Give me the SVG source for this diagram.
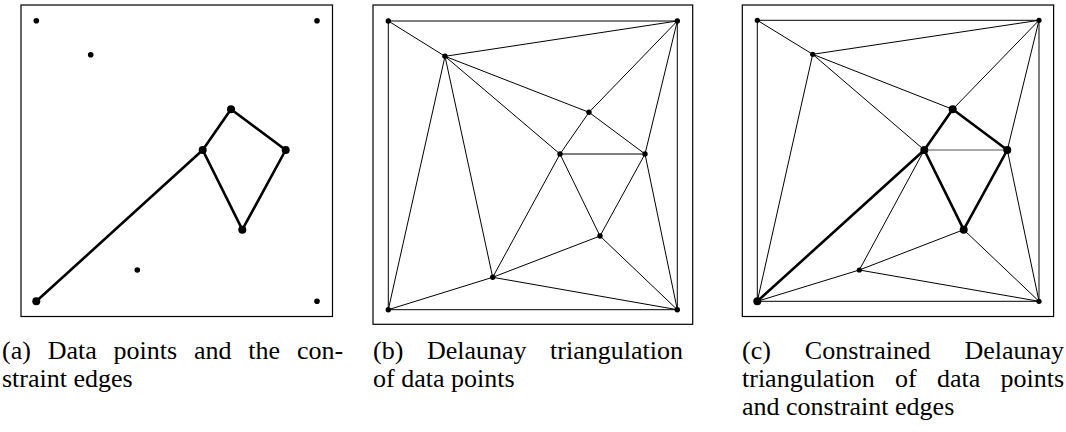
<svg xmlns="http://www.w3.org/2000/svg" width="1066" height="432" viewBox="0 0 1066 432">
<style>
.frame{fill:none;stroke:#000;stroke-width:1.2}
.thin{stroke:#000;stroke-width:1;fill:none}
.thick{stroke:#000;stroke-width:2.6;fill:none;stroke-linecap:round}
.gray{stroke:#555;stroke-width:1.2}
.s{fill:#000}
.cap{font-family:"Liberation Serif",serif;font-size:26px;fill:#000}
</style>
<rect width="1066" height="432" fill="#fff"/>
<!-- Panel a -->
<g id="panel-a">
<rect class="frame" x="21" y="5" width="311.5" height="311.5"/>
<g id="edges-a" class="thick">
<line x1="36.3" y1="301.3" x2="202.7" y2="150"/>
<line x1="202.7" y1="150" x2="231" y2="109.3"/>
<line x1="231" y1="109.3" x2="285.7" y2="150"/>
<line x1="285.7" y1="150" x2="242.3" y2="229.7"/>
<line x1="242.3" y1="229.7" x2="202.7" y2="150"/>
</g>
<g id="nodes-a" class="s">
<circle id="a-tl" cx="36.3" cy="20.7" r="2.8"/>
<circle id="a-tr" cx="317" cy="20.7" r="2.8"/>
<circle id="a-p1" cx="90.7" cy="54.7" r="2.8"/>
<circle id="a-d" cx="231" cy="109.3" r="4"/>
<circle id="a-c" cx="202.7" cy="150" r="4"/>
<circle id="a-e" cx="285.7" cy="150" r="4"/>
<circle id="a-f" cx="242.3" cy="229.7" r="4"/>
<circle id="a-b" cx="137.3" cy="270" r="2.8"/>
<circle id="a-bl" cx="36.3" cy="301.3" r="4"/>
<circle id="a-br" cx="317" cy="301.3" r="2.8"/>
</g>
</g>
<!-- Panel b -->
<g id="panel-b">
<rect class="frame" x="373" y="5" width="319.7" height="319.3"/>
<g id="edges-b" class="thin">
<line x1="388.3" y1="21" x2="677.3" y2="21"/>
<line x1="388.3" y1="21" x2="388.3" y2="309.7"/>
<line x1="677.3" y1="21" x2="677.3" y2="309.7"/>
<line x1="388.3" y1="309.7" x2="677.3" y2="309.7"/>
<line x1="388.3" y1="21" x2="445" y2="56.3"/>
<line x1="445" y1="56.3" x2="677.3" y2="21"/>
<line x1="445" y1="56.3" x2="388.3" y2="309.7"/>
<line x1="445" y1="56.3" x2="492.7" y2="277.3"/>
<line x1="445" y1="56.3" x2="560" y2="154"/>
<line x1="445" y1="56.3" x2="589" y2="112.3"/>
<line x1="677.3" y1="21" x2="589" y2="112.3"/>
<line x1="677.3" y1="21" x2="645" y2="154"/>
<line x1="589" y1="112.3" x2="560" y2="154"/>
<line x1="589" y1="112.3" x2="645" y2="154"/>
<line x1="560" y1="154" x2="645" y2="154"/>
<line x1="560" y1="154" x2="492.7" y2="277.3"/>
<line x1="560" y1="154" x2="600" y2="236"/>
<line x1="645" y1="154" x2="600" y2="236"/>
<line x1="645" y1="154" x2="677.3" y2="309.7"/>
<line x1="600" y1="236" x2="492.7" y2="277.3"/>
<line x1="600" y1="236" x2="677.3" y2="309.7"/>
<line x1="492.7" y1="277.3" x2="388.3" y2="309.7"/>
<line x1="492.7" y1="277.3" x2="677.3" y2="309.7"/>
</g>
<g id="nodes-b" class="s">
<circle cx="388.3" cy="21" r="2.7"/>
<circle cx="677.3" cy="21" r="2.7"/>
<circle cx="445" cy="56.3" r="2.7"/>
<circle cx="589" cy="112.3" r="2.7"/>
<circle cx="560" cy="154" r="2.7"/>
<circle cx="645" cy="154" r="2.7"/>
<circle cx="600" cy="236" r="2.7"/>
<circle cx="492.7" cy="277.3" r="2.7"/>
<circle cx="388.3" cy="309.7" r="2.7"/>
<circle cx="677.3" cy="309.7" r="2.7"/>
</g>
</g>
<!-- Panel c -->
<g id="panel-c">
<rect class="frame" x="742.3" y="5" width="311.3" height="311.5"/>
<g id="edges-c" class="thin">
<line x1="757.3" y1="20.3" x2="1039" y2="20.3"/>
<line x1="757.3" y1="20.3" x2="757.3" y2="301.3"/>
<line x1="1039" y1="20.3" x2="1039" y2="301.3"/>
<line x1="757.3" y1="301.3" x2="1039" y2="301.3"/>
<line x1="757.3" y1="20.3" x2="812.7" y2="54.3"/>
<line x1="812.7" y1="54.3" x2="1039" y2="20.3"/>
<line x1="812.7" y1="54.3" x2="757.3" y2="301.3"/>
<line x1="812.7" y1="54.3" x2="924.3" y2="150"/>
<line x1="812.7" y1="54.3" x2="952.7" y2="109.3"/>
<line x1="1039" y1="20.3" x2="952.7" y2="109.3"/>
<line x1="1039" y1="20.3" x2="1007.3" y2="150"/>
<line x1="1007.3" y1="150" x2="1039" y2="301.3"/>
<line class="gray" x1="924.3" y1="150" x2="1007.3" y2="150"/>
<line x1="924.3" y1="150" x2="859.3" y2="270"/>
<line x1="859.3" y1="270" x2="757.3" y2="301.3"/>
<line x1="859.3" y1="270" x2="963.7" y2="229.7"/>
<line x1="859.3" y1="270" x2="1039" y2="301.3"/>
<line x1="963.7" y1="229.7" x2="1039" y2="301.3"/>
</g>
<g id="constraints-c" class="thick">
<line x1="757.3" y1="301.3" x2="924.3" y2="150"/>
<line x1="924.3" y1="150" x2="952.7" y2="109.3"/>
<line x1="952.7" y1="109.3" x2="1007.3" y2="150"/>
<line x1="1007.3" y1="150" x2="963.7" y2="229.7"/>
<line x1="963.7" y1="229.7" x2="924.3" y2="150"/>
</g>
<g id="nodes-c" class="s">
<circle cx="757.3" cy="20.3" r="2.6"/>
<circle cx="1039" cy="20.3" r="2.6"/>
<circle cx="812.7" cy="54.3" r="2.6"/>
<circle cx="952.7" cy="109.3" r="4"/>
<circle cx="924.3" cy="150" r="4"/>
<circle cx="1007.3" cy="150" r="4"/>
<circle cx="963.7" cy="229.7" r="4"/>
<circle cx="859.3" cy="270" r="2.6"/>
<circle cx="757.3" cy="301.3" r="4"/>
<circle cx="1039" cy="301.3" r="2.6"/>
</g>
</g>
<!-- Captions -->
<g id="captions" class="cap">
<text id="cap-a-1" y="359"><tspan x="2">(a)</tspan><tspan x="47.7">Data</tspan><tspan x="113.6">points</tspan><tspan x="194">and</tspan><tspan x="248.3">the</tspan><tspan x="296.9">con-</tspan></text>
<text id="cap-a-2" y="387" x="2">straint edges</text>
<text id="cap-b-1" y="359"><tspan x="373">(b)</tspan><tspan x="426.9">Delaunay</tspan><tspan x="550.1">triangulation</tspan></text>
<text id="cap-b-2" y="387" x="373">of data points</text>
<text id="cap-c-1" y="359"><tspan x="742">(c)</tspan><tspan x="804.8">Constrained</tspan><tspan x="964.4">Delaunay</tspan></text>
<text id="cap-c-2" y="387"><tspan x="742">triangulation</tspan><tspan x="895.1">of</tspan><tspan x="937">data</tspan><tspan x="1000.5">points</tspan></text>
<text id="cap-c-3" y="415" x="742">and constraint edges</text>
</g>
</svg>
